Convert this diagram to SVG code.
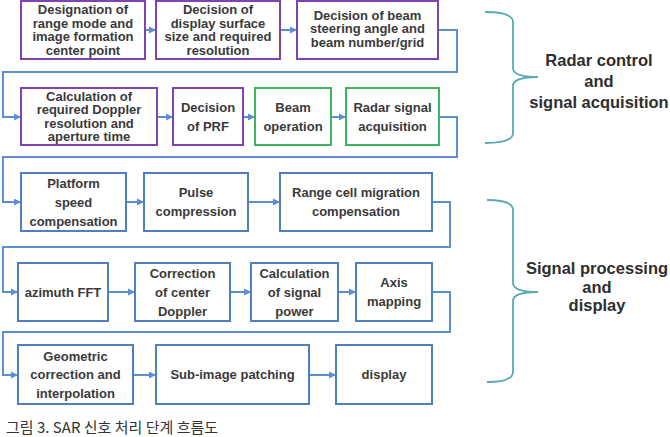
<svg xmlns="http://www.w3.org/2000/svg" width="670" height="437" viewBox="0 0 670 437">
<defs>
<marker id="arr" markerUnits="userSpaceOnUse" markerWidth="8" markerHeight="8" refX="7" refY="4" orient="auto">
<path d="M0,0.5 L7,4 L0,7.5 z" fill="#5B8FCF"/>
</marker>
<style>
.box{fill:#fff;stroke-width:2}
.pu{stroke:#8043B0}
.gr{stroke:#3DB55E}
.bl{stroke:#4F7FBE}
.t{font-family:"Liberation Sans",Arial,sans-serif;font-weight:bold;font-size:13px;fill:#3A3A3A;text-anchor:middle}
.lab{font-family:"Liberation Sans",Arial,sans-serif;font-weight:bold;font-size:16.5px;fill:#2E2E2E;text-anchor:middle}
.cap{font-family:"Noto Sans CJK KR","Noto Sans",sans-serif;font-size:15px;fill:#333}
.con{fill:none;stroke:#5B8FCF;stroke-width:2}
.brace{fill:none;stroke:#5AAAB4;stroke-width:1.8}
</style>
</defs>
<rect width="670" height="437" fill="#fff"/>
<g id="connectors">
<path class="con" d="M145,30 H156" marker-end="url(#arr)"/>
<path class="con" d="M280,30 H297" marker-end="url(#arr)"/>
<path class="con" d="M438,30 H457 V72 H3 V117 H21" marker-end="url(#arr)"/>
<path class="con" d="M157,117 H173" marker-end="url(#arr)"/>
<path class="con" d="M243,117 H255" marker-end="url(#arr)"/>
<path class="con" d="M331,117 H346" marker-end="url(#arr)"/>
<path class="con" d="M439,117 H457 V157 H3 V202 H21" marker-end="url(#arr)"/>
<path class="con" d="M126,202 H144" marker-end="url(#arr)"/>
<path class="con" d="M248,202 H280" marker-end="url(#arr)"/>
<path class="con" d="M432,202 H450 V247 H3 V292 H18" marker-end="url(#arr)"/>
<path class="con" d="M108,292 H135" marker-end="url(#arr)"/>
<path class="con" d="M230,292 H251" marker-end="url(#arr)"/>
<path class="con" d="M338,292 H356" marker-end="url(#arr)"/>
<path class="con" d="M432,292 H450 V332 H3 V375 H18" marker-end="url(#arr)"/>
<path class="con" d="M133,375 H156" marker-end="url(#arr)"/>
<path class="con" d="M309,375 H336" marker-end="url(#arr)"/>
</g>
<g id="n1"><rect class="box pu" x="21" y="1" width="124" height="58"/>
<text class="t" x="83" y="14.3">Designation of</text><text class="t" x="83" y="27.8">range mode and</text><text class="t" x="83" y="41.3">image formation</text><text class="t" x="83" y="54.8">center point</text></g>
<g id="n2"><rect class="box pu" x="156" y="1" width="124" height="58"/>
<text class="t" x="218" y="14.3">Decision of</text><text class="t" x="218" y="27.8">display surface</text><text class="t" x="218" y="41.3">size and required</text><text class="t" x="218" y="54.8">resolution</text></g>
<g id="n3"><rect class="box pu" x="297" y="1" width="141" height="58"/>
<text class="t" x="367.5" y="19.5">Decision of beam</text><text class="t" x="367.5" y="33">steering angle and</text><text class="t" x="367.5" y="46.5">beam number/grid</text></g>
<g id="n4"><rect class="box pu" x="21" y="88" width="136" height="57"/>
<text class="t" x="89" y="100.8">Calculation of</text><text class="t" x="89" y="114.3">required Doppler</text><text class="t" x="89" y="127.8">resolution and</text><text class="t" x="89" y="141.3">aperture time</text></g>
<g id="n5"><rect class="box pu" x="173" y="88" width="70" height="57"/>
<text class="t" x="208" y="111.5">Decision</text><text class="t" x="208" y="130.5">of PRF</text></g>
<g id="n6"><rect class="box gr" x="255" y="88" width="76" height="57"/>
<text class="t" x="293" y="111.5">Beam</text><text class="t" x="293" y="130.5">operation</text></g>
<g id="n7"><rect class="box gr" x="346" y="88" width="93" height="57"/>
<text class="t" x="392.5" y="111.5">Radar signal</text><text class="t" x="392.5" y="130.5">acquisition</text></g>
<g id="n8"><rect class="box bl" x="21" y="173" width="105" height="58"/>
<text class="t" x="73.5" y="187.5">Platform</text><text class="t" x="73.5" y="206.5">speed</text><text class="t" x="73.5" y="225.5">compensation</text></g>
<g id="n9"><rect class="box bl" x="144" y="173" width="104" height="58"/>
<text class="t" x="196" y="197.2">Pulse</text><text class="t" x="196" y="215.8">compression</text></g>
<g id="n10"><rect class="box bl" x="280" y="173" width="152" height="58"/>
<text class="t" x="356" y="197.2">Range cell migration</text><text class="t" x="356" y="215.8">compensation</text></g>
<g id="n11"><rect class="box bl" x="18" y="263" width="90" height="58"/>
<text class="t" x="63" y="296.5">azimuth FFT</text></g>
<g id="n12"><rect class="box bl" x="135" y="263" width="95" height="58"/>
<text class="t" x="182.5" y="277.5">Correction</text><text class="t" x="182.5" y="296.5">of center</text><text class="t" x="182.5" y="315.5">Doppler</text></g>
<g id="n13"><rect class="box bl" x="251" y="263" width="87" height="58"/>
<text class="t" x="294.5" y="277.5">Calculation</text><text class="t" x="294.5" y="296.5">of signal</text><text class="t" x="294.5" y="315.5">power</text></g>
<g id="n14"><rect class="box bl" x="356" y="263" width="76" height="58"/>
<text class="t" x="394" y="287.2">Axis</text><text class="t" x="394" y="305.8">mapping</text></g>
<g id="n15"><rect class="box bl" x="18" y="345" width="115" height="59"/>
<text class="t" x="75.5" y="360.5">Geometric</text><text class="t" x="75.5" y="379">correction and</text><text class="t" x="75.5" y="397.5">interpolation</text></g>
<g id="n16"><rect class="box bl" x="156" y="345" width="153" height="59"/>
<text class="t" x="232.5" y="379">Sub-image patching</text></g>
<g id="n17"><rect class="box bl" x="336" y="345" width="96" height="59"/>
<text class="t" x="384" y="379">display</text></g>
<g id="brace1">
<path class="brace" d="M485,12 Q513,12 513,22 V68 Q513,77 538,77 Q513,77 513,86 V133 Q513,143 485,143"/>
<text class="lab" x="599" y="66">Radar control</text><text class="lab" x="599" y="87">and</text><text class="lab" x="599" y="108">signal acquisition</text>
</g>
<g id="brace2">
<path class="brace" d="M487,200 Q513,200 513,210 V283 Q513,292 538,292 Q513,292 513,301 V372 Q513,382 487,382"/>
<text class="lab" x="597" y="274">Signal processing</text><text class="lab" x="597" y="293">and</text><text class="lab" x="597" y="311">display</text>
</g>
<text class="cap" x="6" y="433">그림 3. SAR 신호 처리 단계 흐름도</text>
</svg>
